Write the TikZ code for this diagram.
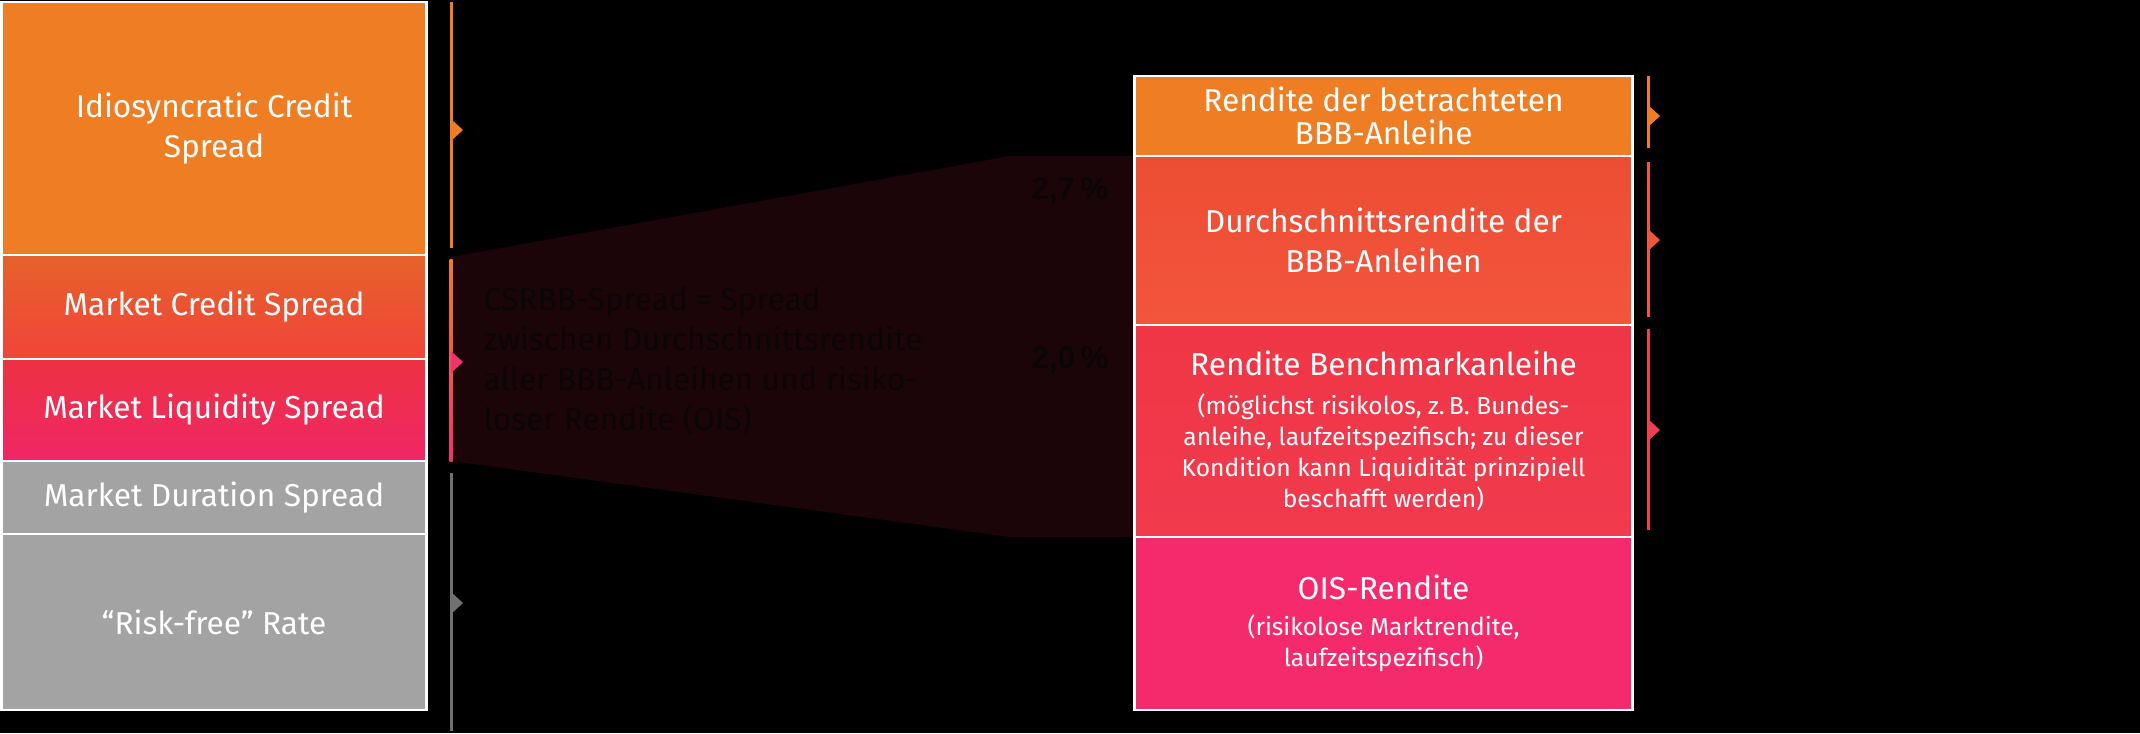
\documentclass[tikz,border=0pt]{standalone}
\usepackage{fontspec}
\setmainfont{Fira Sans}
\newfontfamily\pctfont{Liberation Sans}
\usepackage{tikz}

\definecolor{idioorange}{RGB}{238,125,35}
\definecolor{creditA}{RGB}{229,98,42}
\definecolor{creditB}{RGB}{241,68,58}
\definecolor{liquA}{RGB}{236,50,66}
\definecolor{liquB}{RGB}{241,38,102}
\definecolor{riskgrey}{RGB}{163,163,163}
\definecolor{avgA}{RGB}{236,78,52}
\definecolor{avgB}{RGB}{243,84,60}
\definecolor{benchA}{RGB}{238,54,70}
\definecolor{benchB}{RGB}{242,58,78}
\definecolor{oispink}{RGB}{245,42,108}
\definecolor{wedge}{RGB}{27,5,9}
\definecolor{wedgetext}{RGB}{10,6,7}
\definecolor{linegrey}{RGB}{112,112,112}
\definecolor{lineavg}{RGB}{240,86,58}
\definecolor{linebench}{RGB}{238,64,78}
\definecolor{linepink}{RGB}{240,50,110}

\newcommand{\boxfont}{\fontsize{9}{11.4}\selectfont}
\newcommand{\notefont}{\fontsize{7}{8.8}\selectfont}

\begin{document}
\begin{tikzpicture}[x=0.01cm,y=-0.01cm,
  lbox/.style={draw=white,line width=0.8pt,minimum width=4.24cm,inner sep=0pt,text=white,font=\boxfont,align=center},
  rbox/.style={draw=white,line width=0.8pt,minimum width=4.97cm,inner sep=0pt,text=white,font=\boxfont,align=center},
  pct/.style={font={\fontsize{9}{11}\selectfont\pctfont\bfseries},text=wedgetext},
  tick/.style={line width=0.85pt}]
\useasboundingbox (0,0) rectangle (2140,733);
\fill[black] (0,0) rectangle (2140,733);

% wedge between the two columns
\coordinate (wtl) at (451,257);
\coordinate (wbl) at (451,461);
\coordinate (wtm) at (1010,156);
\coordinate (wbm) at (1010,537);
\coordinate (wtr) at (1135,156);
\coordinate (wbr) at (1135,537);
\fill[wedge] (wtl) -- (wtm) -- (wtr) -- (wbr) -- (wbm) -- (wbl) -- cycle;

\node[lbox,fill=idioorange,minimum height=2.53cm]              (idio) at (214,128.5) {Idiosyncratic Credit\\Spread};
\node[lbox,top color=creditA,bottom color=creditB,minimum height=1.04cm] (mcs) at (214,307) {Market Credit Spread};
\node[lbox,top color=liquA,bottom color=liquB,minimum height=1.02cm]     (mls) at (214,410) {Market Liquidity Spread};
\node[lbox,fill=riskgrey,minimum height=0.73cm]                (mds) at (214,497.5) {Market Duration Spread};
\node[lbox,fill=riskgrey,minimum height=1.76cm]                (rfr) at (214,622) {“Risk-free” Rate};

\node[rbox,fill=idioorange,minimum height=0.8cm]               (rbbb) at (1383.5,116) {Rendite der betrachteten\\[-2pt]BBB-Anleihe};
\node[rbox,top color=avgA,bottom color=avgB,minimum height=1.69cm]       (dbbb) at (1383.5,240.5) {Durchschnittsrendite der\\BBB-Anleihen};
\node[rbox,top color=benchA,bottom color=benchB,minimum height=2.12cm,font=\notefont] (bench) at (1383.5,431)
  {{\boxfont Rendite Benchmarkanleihe}\\[2.3pt](möglichst risikolos, z.\,B. Bundes-\\anleihe, laufzeitspezifisch; zu dieser\\Kondition kann Liquidität prinzipiell\\beschafft werden)};
\node[rbox,fill=oispink,minimum height=1.73cm,font=\notefont]  (ois) at (1383.5,623.5)
  {{\boxfont OIS-Rendite}\\[1.5pt](risikolose Marktrendite,\\laufzeitspezifisch)};

\node[anchor=west,inner sep=0pt,font=\boxfont,text=wedgetext,align=left] (csrbb) at (483,361)
  {CSRBB-Spread = Spread\\zwischen Durchschnittsrendite\\aller BBB-Anleihen und risiko-\\loser Rendite (OIS)};
\node[pct] (p27) at (1070,191) {2,7\,\%};
\node[pct] (p20) at (1070,360) {2,0\,\%};

% brackets left
\draw[tick,idioorange] (451,2) -- (451,248);
\fill[idioorange] (451,119) -- (463,130) -- (451,141) -- cycle;
\shade[top color=idioorange,bottom color=linepink] (449.5,259) rectangle (452.5,461);
\fill[linepink] (451,351) -- (463,362) -- (451,373) -- cycle;
\draw[tick,linegrey] (451,473) -- (451,731);
\fill[linegrey] (451,592) -- (463,603) -- (451,614) -- cycle;

% brackets right
\draw[tick,idioorange] (1648,76) -- (1648,148);
\fill[idioorange] (1648,105) -- (1660,116) -- (1648,127) -- cycle;
\draw[tick,lineavg] (1648,162) -- (1648,317);
\fill[lineavg] (1648,229) -- (1660,240) -- (1648,251) -- cycle;
\draw[tick,linebench] (1648,329) -- (1648,530);
\fill[linebench] (1648,419) -- (1660,430) -- (1648,441) -- cycle;
\end{tikzpicture}
\end{document}
